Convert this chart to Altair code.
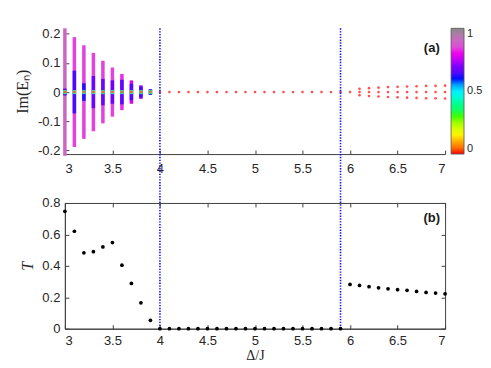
import altair as alt
import pandas as pd

# ---------------- data ----------------
seg_x = [3.0, 3.1, 3.2, 3.3, 3.4, 3.5, 3.6, 3.7, 3.8, 3.9]
outer_amp = [0.218, 0.188, 0.160, 0.134, 0.107, 0.084, 0.062, 0.040, 0.023, 0.010]
outer_val = [0.90, 0.84, 0.84, 0.84, 0.84, 0.84, 0.82, 0.78, 0.72, 0.62]
inner_amp = [0.012, 0.073, 0.030, 0.055, 0.045, 0.040, 0.042, 0.028, 0.018, 0.006]
inner_val = [0.66, 0.63, 0.61, 0.67, 0.67, 0.67, 0.65, 0.64, 0.63, 0.52]
center_val = [0.45, 0.45, 0.45, 0.45, 0.45, 0.45, 0.45, 0.45, 0.45, 0.45]

flat_x = [4.0, 4.1, 4.2, 4.3, 4.4, 4.5, 4.6, 4.7, 4.8, 4.9, 5.0, 5.1, 5.2, 5.3, 5.4,
          5.5, 5.6, 5.7, 5.8, 5.9, 6.0]
split_x = [6.1, 6.2, 6.3, 6.4, 6.5, 6.6, 6.7, 6.8, 6.9, 7.0]
split_amp = [0.011, 0.0135, 0.015, 0.017, 0.018, 0.019, 0.020, 0.021, 0.021, 0.022]

t_x = [3.0, 3.1, 3.2, 3.3, 3.4, 3.5, 3.6, 3.7, 3.8, 3.9, 4.0, 4.1, 4.2, 4.3, 4.4, 4.5,
       4.6, 4.7, 4.8, 4.9, 5.0, 5.1, 5.2, 5.3, 5.4, 5.5, 5.6, 5.7, 5.8, 5.9, 6.0, 6.1,
       6.2, 6.3, 6.4, 6.5, 6.6, 6.7, 6.8, 6.9, 7.0]
t_y = [0.747, 0.620, 0.483, 0.490, 0.520, 0.548, 0.404, 0.288, 0.165, 0.053,
       0, 0, 0, 0, 0, 0, 0, 0, 0, 0, 0, 0, 0, 0, 0, 0, 0, 0, 0, 0,
       0.282, 0.275, 0.267, 0.260, 0.254, 0.248, 0.244, 0.237, 0.231, 0.227, 0.222]

vline_x = [4.0, 5.9]

cmap_stops = [0.0, 0.08, 0.16, 0.3, 0.4, 0.5, 0.6, 0.7, 0.8, 0.9, 1.0]
cmap_colors = ["#ff0000", "#ff9000", "#ffff00", "#40ff00", "#00ff90", "#00f0ff",
               "#0010ff", "#8000ff", "#f000f0", "#cc66c4", "#8a8a8a"]

x_ticks = [3, 3.5, 4, 4.5, 5, 5.5, 6, 6.5, 7]
top_y_ticks = [-0.2, -0.1, 0, 0.1, 0.2]
bot_y_ticks = [0, 0.2, 0.4, 0.6, 0.8]

label_a = {"x": [6.86], "y": [0.15], "t": ["(a)"]}
label_b = {"x": [6.86], "y": [0.705], "t": ["(b)"]}

# ---------------- tables ----------------
W, H, GAP = 381, 126, 49
top_dom = [-0.212, 0.218]

seg = pd.DataFrame({"x": seg_x,
                    "lo": [-a for a in outer_amp], "hi": outer_amp, "v": outer_val,
                    "ilo": [-a for a in inner_amp], "ihi": inner_amp, "iv": inner_val,
                    "clo": [-0.007] * len(seg_x), "chi": [0.007] * len(seg_x),
                    "cv": center_val, "z": [0.0] * len(seg_x)})
dots = pd.DataFrame({
    "x": flat_x + split_x + split_x + split_x,
    "y": [0.0] * len(flat_x) + split_amp + [-a for a in split_amp] + [0.0] * len(split_x),
})
tdf = pd.DataFrame({"x": t_x, "y": t_y})
vl = pd.DataFrame({"x": vline_x})

xs = alt.Scale(domain=[3, 7], nice=False, zero=False)
ys_top = alt.Scale(domain=top_dom, nice=False, zero=False)
ys_bot = alt.Scale(domain=[0, 0.8], nice=False, zero=False)
cs = alt.Scale(domain=cmap_stops, range=cmap_colors, type="linear")

LABEL_EXPR = "'' + datum.value"

legend = alt.Legend(type="gradient", orient="none", legendX=W + 6, legendY=0,
                    direction="vertical", padding=0,
                    gradientLength=H, gradientThickness=13, values=[0, 0.5, 1],
                    labelExpr=LABEL_EXPR, labelFontSize=11, labelOffset=3,
                    gradientStrokeColor="#555555", gradientStrokeWidth=0.8,
                    labelFont="Liberation Sans", labelColor="#262626")


def stroke_col(field):
    return alt.Stroke(field, type="quantitative", scale=cs, legend=legend, title=None)


NOAX = dict(axis=None)

main_x_top = alt.Axis(orient="bottom", values=x_ticks, labelExpr=LABEL_EXPR, ticks=False,
                      title=None, labelPadding=8)
main_y_top = alt.Axis(orient="left", values=top_y_ticks, labelExpr=LABEL_EXPR, ticks=False,
                      title="Im(Eₙ)", titleX=-42, titleY=H / 2, titleBaseline="middle",
                      titleFont="Liberation Serif", titleFontSize=16, titleFontWeight="normal",
                      labelPadding=5)

outer = alt.Chart(seg).mark_rule(strokeWidth=3.5).encode(
    x=alt.X("x:Q", scale=xs, axis=main_x_top),
    y=alt.Y("lo:Q", scale=ys_top, axis=main_y_top),
    y2="hi:Q",
    stroke=stroke_col("v"),
)
inner = alt.Chart(seg).mark_rule(strokeWidth=3.5).encode(
    x=alt.X("x:Q", scale=xs, **NOAX),
    y=alt.Y("ilo:Q", scale=ys_top, **NOAX),
    y2="ihi:Q",
    stroke=stroke_col("iv"),
)
cyan = alt.Chart(seg).mark_rule(strokeWidth=3.5).encode(
    x=alt.X("x:Q", scale=xs, **NOAX),
    y=alt.Y("clo:Q", scale=ys_top, **NOAX),
    y2="chi:Q",
    stroke=stroke_col("cv"),
)
orange = alt.Chart(seg).mark_circle(size=9, opacity=1, color="#ff6a00").encode(
    x=alt.X("x:Q", scale=xs, **NOAX),
    y=alt.Y("z:Q", scale=ys_top, **NOAX),
)
reddots = alt.Chart(dots).mark_circle(size=7, opacity=0.75, color="#ff1a1a").encode(
    x=alt.X("x:Q", scale=xs, **NOAX),
    y=alt.Y("y:Q", scale=ys_top, **NOAX),
)
vlines = alt.Chart(vl).mark_rule(color="#1010ff", strokeWidth=1.6, strokeDash=[1.4, 1.4]).encode(
    x=alt.X("x:Q", scale=xs, **NOAX),
    y=alt.value(0),
    y2=alt.value(H + GAP + H),
)
tick_top = alt.Chart(seg).mark_point(opacity=0).encode(
    x=alt.X("x:Q", scale=xs, axis=alt.Axis(orient="top", offset=-H, labels=False, domain=False,
                                             ticks=True, tickSize=4, values=x_ticks, title=None)),
    y=alt.Y("lo:Q", scale=ys_top, axis=alt.Axis(orient="right", offset=-W, labels=False,
                                                  domain=False, ticks=True, tickSize=4,
                                                  values=top_y_ticks, title=None)),
)
ann_a = alt.Chart(pd.DataFrame(label_a)).mark_text(
    font="Liberation Sans", fontSize=13, fontWeight="bold", color="#1a1a1a").encode(
    x=alt.X("x:Q", scale=xs, **NOAX), y=alt.Y("y:Q", scale=ys_top, **NOAX), text="t:N")

top = alt.layer(outer, inner, cyan, orange, reddots, tick_top, ann_a, vlines).resolve_axis(
    x="independent", y="independent").properties(
    width=W, height=H, view=alt.ViewBackground(stroke="transparent"))

main_x_bot = alt.Axis(orient="bottom", values=x_ticks, labelExpr=LABEL_EXPR, ticks=False,
                      title="Δ/J", titleY=27, titleBaseline="middle",
                      titleFont="Liberation Serif", titleFontSize=14, titleFontWeight="normal",
                      labelPadding=6)
main_y_bot = alt.Axis(orient="left", values=bot_y_ticks, labelExpr=LABEL_EXPR, ticks=False,
                      title="T", titleX=-37, titleY=H / 2, titleBaseline="middle",
                      titleFont="Liberation Serif", titleFontSize=16, titleFontWeight="normal",
                      titleFontStyle="italic", labelPadding=5)

pts = alt.Chart(tdf).mark_circle(size=14, color="black", opacity=1).encode(
    x=alt.X("x:Q", scale=xs, axis=main_x_bot),
    y=alt.Y("y:Q", scale=ys_bot, axis=main_y_bot),
)
tick_b1 = alt.Chart(tdf).mark_point(opacity=0).encode(
    x=alt.X("x:Q", scale=xs, axis=alt.Axis(orient="top", offset=-H, labels=False, domain=False,
                                             ticks=True, tickSize=4, values=x_ticks, title=None)),
    y=alt.Y("y:Q", scale=ys_bot, axis=alt.Axis(orient="right", offset=-W, labels=False,
                                                 domain=False, ticks=True, tickSize=4,
                                                 values=bot_y_ticks, title=None)),
)
tick_b2 = alt.Chart(tdf).mark_point(opacity=0).encode(
    x=alt.X("x:Q", scale=xs, axis=alt.Axis(orient="bottom", offset=-H, labels=False, domain=False,
                                             ticks=True, tickSize=4, values=x_ticks, title=None)),
    y=alt.Y("y:Q", scale=ys_bot, axis=alt.Axis(orient="left", offset=-W, labels=False,
                                                 domain=False, ticks=True, tickSize=4,
                                                 values=bot_y_ticks, title=None)),
)
ann_b = alt.Chart(pd.DataFrame(label_b)).mark_text(
    font="Liberation Sans", fontSize=13, fontWeight="bold", color="#1a1a1a").encode(
    x=alt.X("x:Q", scale=xs, **NOAX), y=alt.Y("y:Q", scale=ys_bot, **NOAX), text="t:N")

bottom = alt.layer(pts, tick_b1, tick_b2, ann_b).resolve_axis(
    x="independent", y="independent").properties(
    width=W, height=H, view=alt.ViewBackground(stroke="#404040", strokeWidth=1))

chart = alt.vconcat(top, bottom, spacing=GAP, bounds="flush").properties(
    padding={"left": 6, "top": 17, "right": 0, "bottom": 0},
    background="white",
).configure_axis(
    grid=False, labelFont="Liberation Sans", labelFontSize=13, labelColor="#262626",
    domainColor="#404040", tickColor="#404040", domainWidth=1, titleColor="#262626",
)

chart.save("out.html", embed_options={"renderer": "svg", "actions": False})
